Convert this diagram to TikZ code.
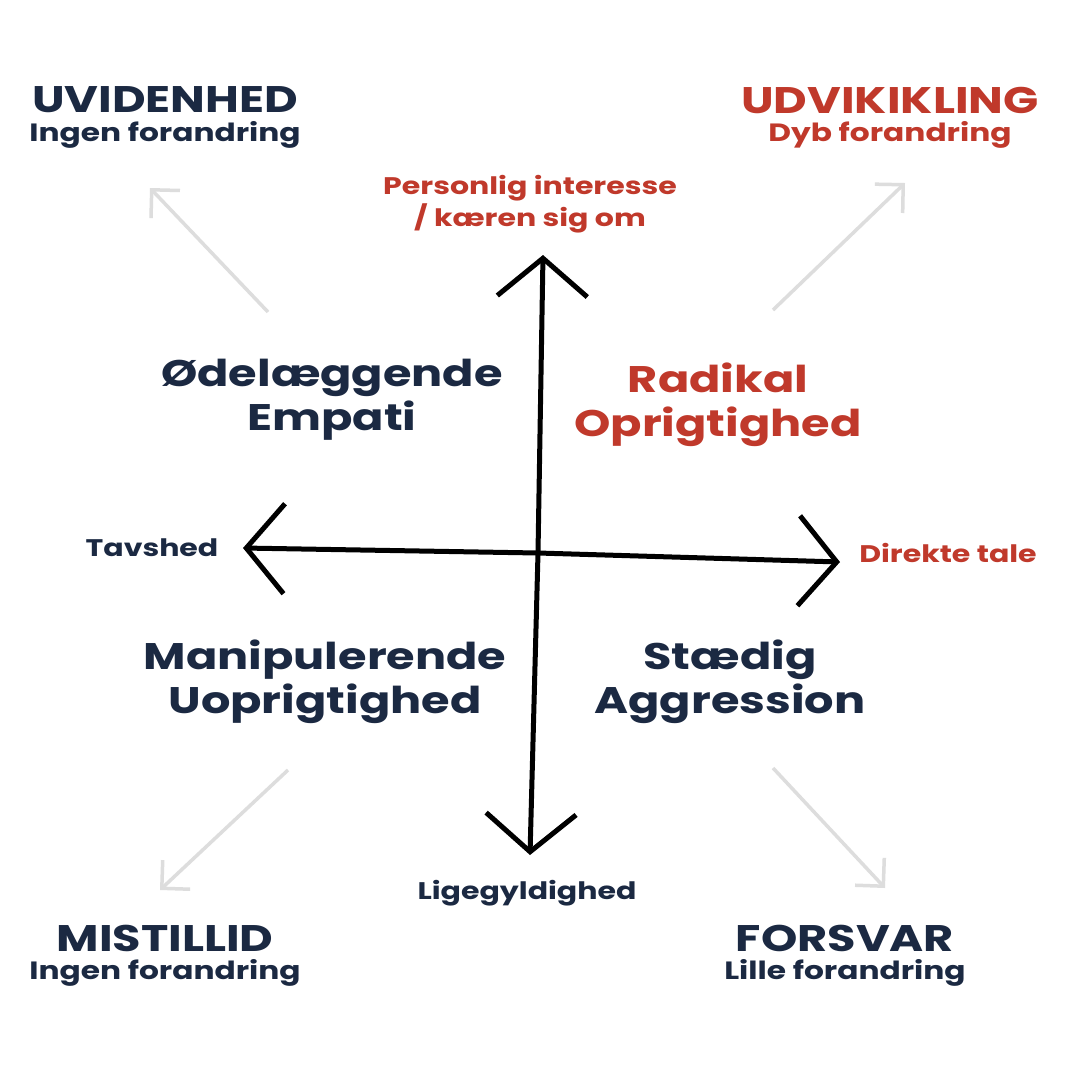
\documentclass[tikz,border=0pt]{standalone}
\usepackage{fontspec}
\setmainfont{Poppins}[UprightFont=* Bold, FakeStretch=1.25]
\usetikzlibrary{arrows.meta}
\definecolor{navy}{HTML}{1B2942}
\definecolor{rd}{HTML}{C0392B}
\definecolor{lg}{HTML}{DDDDDD}
\tikzset{
 big/.style={font=\fontsize{37}{44}\selectfont,align=center},
 head/.style={font=\fontsize{37}{40}\selectfont},
 sub/.style={font=\fontsize{25}{28}\selectfont},
 small/.style={font=\fontsize{24}{32}\selectfont,align=center},
 axis/.style={line width=5pt,-{Straight Barb[length=38pt,width=90pt,line width=5pt]}},
 diag/.style={draw=lg,line width=3.5pt,-{Straight Barb[length=20pt,width=40pt,line width=3.5pt]}}
}
\begin{document}
\begin{tikzpicture}[x=1pt,y=-1pt]
\useasboundingbox[fill=white] (0,0) rectangle (1080,1080);
\coordinate (c) at (538,553);
\coordinate (n) at (543,255);
\coordinate (s) at (530,855);
\coordinate (w) at (243,548);
\coordinate (e) at (840,562);
\draw[axis] (c) -- (n);
\draw[axis] (c) -- (s);
\draw[axis] (c) -- (w);
\draw[axis] (c) -- (e);
\coordinate (a1) at (268,312); \coordinate (b1) at (150,188);
\coordinate (a2) at (773,310); \coordinate (b2) at (905,183);
\coordinate (a3) at (288,770); \coordinate (b3) at (160,890);
\coordinate (a4) at (773,768); \coordinate (b4) at (885,888);
\draw[diag] (a1)--(b1); \draw[diag] (a2)--(b2);
\draw[diag] (a3)--(b3); \draw[diag] (a4)--(b4);
\node[head,navy] (uv) at (165,100) {UVIDENHED};
\node[sub,navy] (uv2) at (165,135) {Ingen forandring};
\node[head,rd] (ud) at (890,100) {UDVIKIKLING};
\node[sub,rd] (ud2) at (890,135) {Dyb forandring};
\node[small,rd] (pi) at (530,204) {Personlig interesse\\/ kæren sig om};
\node[big,navy] (oe) at (332,400) {Ødelæggende\\Empati};
\node[big,rd] (ro) at (718,405) {Radikal\\Oprigtighed};
\node[small,navy] (tv) at (152,548) {Tavshed};
\node[small,rd] (dt) at (948,553) {Direkte tale};
\node[big,navy] (mu) at (325,682) {Manipulerende\\Uoprigtighed};
\node[big,navy] (sa) at (730,682) {Stædig\\Aggression};
\node[small,navy] (lg) at (527,893) {Ligegyldighed};
\node[head,navy] (mi) at (165,938) {MISTILLID};
\node[sub,navy] (mi2) at (165,973) {Ingen forandring};
\node[head,navy] (fo) at (845,938) {FORSVAR};
\node[sub,navy] (fo2) at (845,973) {Lille forandring};
\end{tikzpicture}
\end{document}
